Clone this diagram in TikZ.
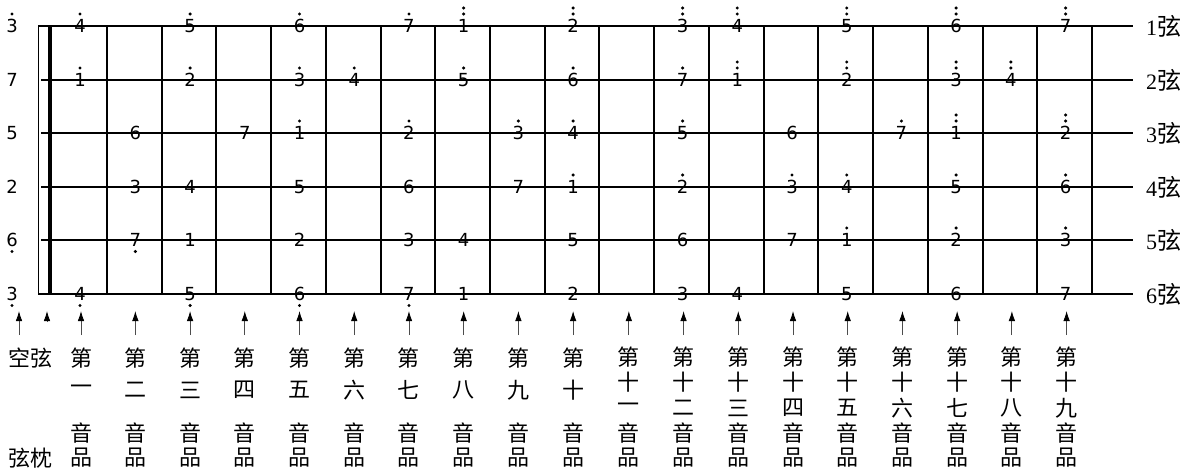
\documentclass[tikz,border=0pt]{standalone}
\usepackage{fontspec}
\setmainfont{Liberation Serif}
\newfontfamily\digitfont{DejaVu Sans}
\newfontfamily\cjk{Noto Sans CJK SC}
\usetikzlibrary{arrows.meta,calc}
\tikzset{
  stringline/.style={line width=1.5pt},
  fretline/.style={line width=1.5pt},
  nutline/.style={line width=4pt},
  edgeline/.style={line width=1pt},
  notenum/.style={inner sep=0pt, font=\digitfont\fontsize{18}{18}\selectfont},
  strlabel/.style={anchor=west, inner sep=0pt, font=\fontsize{22}{22}\selectfont},
  cjklabel/.style={inner sep=0pt, font=\cjk\fontsize{22}{22}\selectfont},
  uparrow/.style={draw=black!70, line width=0.8pt, -{Latex[length=10pt,width=6.5pt,color=black]}},
  notedot/.style={fill=black}
}
\begin{document}
\begin{tikzpicture}[x=1pt,y=-1pt]
\useasboundingbox (0,0) rectangle (1191,475);
% strings
\foreach \s in {1,...,6}{
  \pgfmathsetmacro\yy{round(26+53.6*(\s-1))}
  \pgfmathsetmacro\xl{(\s==1 || \s==6) ? 38 : 41}
  \coordinate (sL-\s) at (\xl,\yy);
  \coordinate (sR-\s) at (1133,\yy);
  \draw[stringline] (sL-\s) -- (sR-\s);
  \node[strlabel] (lab-\s) at (1146,\yy) {\s{\cjk\fontsize{24}{24}\selectfont 弦}};
}
% left edge and nut
\coordinate (eT) at (38,26); \coordinate (eB) at (38,294);
\draw[edgeline] (eT) -- (eB);
\coordinate (nT) at (50,26); \coordinate (nB) at (50,294);
\draw[nutline] (nT) -- (nB);
% frets
\foreach \k in {1,...,19}{
  \pgfmathsetmacro\xx{round(107+54.72*(\k-1))}
  \coordinate (fT-\k) at (\xx,26);
  \coordinate (fB-\k) at (\xx,294);
  \draw[fretline] (fT-\k) -- (fB-\k);
}
% notes: string/fret/digit/dots (1,2 above; -1 below)
\foreach \s/\f/\d/\o in {
 1/0/3/1, 1/1/4/1, 1/3/5/1, 1/5/6/1, 1/7/7/1, 1/8/1/2, 1/10/2/2, 1/12/3/2, 1/13/4/2, 1/15/5/2, 1/17/6/2, 1/19/7/2,
 2/0/7/0, 2/1/1/1, 2/3/2/1, 2/5/3/1, 2/6/4/1, 2/8/5/1, 2/10/6/1, 2/12/7/1, 2/13/1/2, 2/15/2/2, 2/17/3/2, 2/18/4/2,
 3/0/5/0, 3/2/6/0, 3/4/7/0, 3/5/1/1, 3/7/2/1, 3/9/3/1, 3/10/4/1, 3/12/5/1, 3/14/6/0, 3/16/7/1, 3/17/1/2, 3/19/2/2,
 4/0/2/0, 4/2/3/0, 4/3/4/0, 4/5/5/0, 4/7/6/0, 4/9/7/0, 4/10/1/1, 4/12/2/1, 4/14/3/1, 4/15/4/1, 4/17/5/1, 4/19/6/1,
 5/0/6/-1, 5/2/7/-1, 5/3/1/0, 5/5/2/0, 5/7/3/0, 5/8/4/0, 5/10/5/0, 5/12/6/0, 5/14/7/0, 5/15/1/1, 5/17/2/1, 5/19/3/1,
 6/0/3/-1, 6/1/4/-1, 6/3/5/-1, 6/5/6/-1, 6/7/7/-1, 6/8/1/0, 6/10/2/0, 6/12/3/0, 6/13/4/0, 6/15/5/0, 6/17/6/0, 6/19/7/0}{
  \pgfmathsetmacro\cx{ifthenelse(\f==0,12,ifthenelse(\f==1,80,107+54.72*(\f-1.5)+1))}
  \pgfmathsetmacro\cy{round(26+53.6*(\s-1))}
  \node[notenum] (n-\s-\f) at (\cx,\cy) {\d};
  \ifnum\o>0 \fill[notedot] ($(n-\s-\f)+(0,-12)$) circle[radius=1.7]; \fi
  \ifnum\o>1 \fill[notedot] ($(n-\s-\f)+(0,-18)$) circle[radius=1.7]; \fi
  \ifnum\o<0 \fill[notedot] ($(n-\s-\f)+(0,11.5)$) circle[radius=1.7]; \fi
}
% arrows and labels
\coordinate (aB-o) at (19,335); \coordinate (aT-o) at (19,311);
\draw[uparrow] (aB-o) -- (aT-o);
\coordinate (aB-n) at (47,322); \coordinate (aT-n) at (47,311);
\draw[uparrow] (aB-n) -- (aT-n);
\node[cjklabel] (open) at (31,358) {空弦};
\node[cjklabel] (nut) at (31,458) {弦枕};
\foreach \k/\num in {1/一,2/二,3/三,4/四,5/五,6/六,7/七,8/八,9/九,10/十}{
  \pgfmathsetmacro\cx{ifthenelse(\k==1,81,107+54.72*(\k-1.5)+1)}
  \coordinate (aB-\k) at (\cx,335); \coordinate (aT-\k) at (\cx,311);
  \draw[uparrow] (aB-\k) -- (aT-\k);
  \node[cjklabel] (d-\k) at (\cx,358) {第};
  \node[cjklabel] (m-\k) at (\cx,390) {\num};
  \node[cjklabel] (y-\k) at (\cx,433) {音};
  \node[cjklabel] (p-\k) at (\cx,458) {品};
}
\foreach \k/\num in {11/一,12/二,13/三,14/四,15/五,16/六,17/七,18/八,19/九}{
  \pgfmathsetmacro\cx{107+54.72*(\k-1.5)+2}
  \coordinate (aB-\k) at (\cx,335); \coordinate (aT-\k) at (\cx,311);
  \draw[uparrow] (aB-\k) -- (aT-\k);
  \node[cjklabel] (d-\k) at (\cx,357) {第};
  \node[cjklabel] (t-\k) at (\cx,382) {十};
  \node[cjklabel] (m-\k) at (\cx,408) {\num};
  \node[cjklabel] (y-\k) at (\cx,433) {音};
  \node[cjklabel] (p-\k) at (\cx,458) {品};
}
\end{tikzpicture}
\end{document}
